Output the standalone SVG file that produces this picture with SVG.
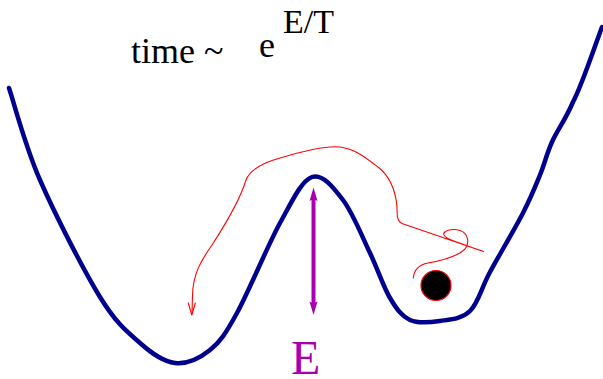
<svg xmlns="http://www.w3.org/2000/svg" width="603" height="379" viewBox="0 0 603 379">
<style>
.lbl{font-family:"Liberation Serif","Times New Roman",serif;fill:#000}
.well{fill:none;stroke:#00008f;stroke-width:4.5;stroke-linecap:round;stroke-linejoin:round}
.path{fill:none;stroke:#ff0000;stroke-width:1.1;stroke-linecap:round;stroke-linejoin:round}
.barrier{fill:none;stroke:#a800b0;stroke-width:4}
</style>
<rect width="603" height="379" fill="#fff"/>
<g id="formula">
<text class="lbl" x="131" y="63" font-size="36">time ~</text>
<text class="lbl" x="259" y="57" font-size="36">e</text>
<text class="lbl" x="283" y="33" font-size="34">E/T</text>
</g>
<g id="potential">
<path class="well" d="M 9,88 C 14.2,103.3 24.8,145.2 40,180 C 55.2,214.8 83.3,269.8 100,297 C 116.7,324.2 127.5,332 140,343 C 152.5,354 163.3,361.8 175,363 C 186.7,364.2 199.7,358.3 210,350 C 220.3,341.7 225.3,334.2 237,313 C 248.7,291.8 267.5,245.7 280,223 C 292.5,200.3 301.5,180.8 312,177 C 322.5,173.2 333.3,187.3 343,200 C 352.7,212.7 362.2,236.7 370,253 C 377.8,269.3 383.3,286.8 390,298 C 396.7,309.2 401.7,316.2 410,320 C 418.3,323.8 430,322.5 440,321 C 450,319.5 461.7,319.2 470,311 C 478.3,302.8 481.2,288.3 490,272 C 498.8,255.7 514.7,229.2 523,213 C 531.3,196.8 535.2,186.8 540,175 C 544.8,163.2 546.5,154.2 552,142 C 557.5,129.8 564.7,121.2 573,102 C 581.3,87.2 597.2,39.5 602,27"/>
</g>
<g id="connectors">
<path class="path" d="M 413.3,278 C 414,270 418,265 428,263 C 445,260 458,256 465,249 C 470,243 468,233 460,230.5 C 452,228 442,231 444,235 C 447,240 460,243 483.5,251.5 L 402,223.5 C 397,221 397,215 397,207 C 396,195 392,178 378,167 C 365,157 355,149 340,147 C 325,145 300,152 280,158 C 262,163 250,170 246,180 C 240,200 225,225 212,245 C 200,262 193,275 192.5,295 L 192,314"/>
<path class="path" d="M 188.3,303 L 191.8,315 L 195.3,303"/>
<g id="energy-arrow">
<line class="barrier" x1="313.5" y1="196" x2="313.5" y2="306"/>
<path d="M 313.5,187.5 L 317.5,201 L 313.5,199 L 309.5,201 Z" fill="#a800b0"/>
<path d="M 313.5,315 L 317.5,301.5 L 313.5,303.5 L 309.5,301.5 Z" fill="#a800b0"/>
</g>
</g>
<g id="ball">
<circle cx="436" cy="285.5" r="15" fill="#000" stroke="#ff0000" stroke-width="1.2"/>
</g>
<g id="label-E">
<text x="291" y="374" font-size="48" fill="#a800b0" font-family="'Liberation Serif','Times New Roman',serif">E</text>
</g>
</svg>
